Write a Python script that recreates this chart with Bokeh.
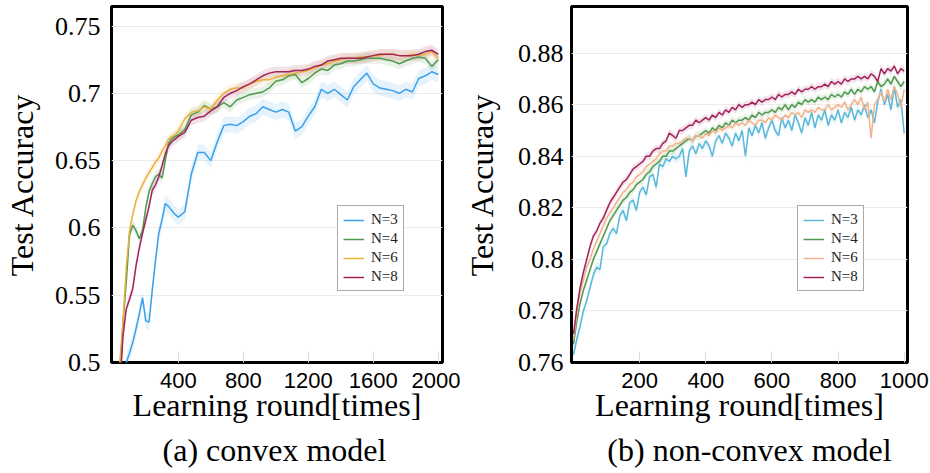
from bokeh.plotting import figure
from bokeh.layouts import row, column
from bokeh.models import (FixedTicker, CustomJSTickFormatter, Legend, LegendItem,
                          Label, Range1d)
from bokeh.embed import file_html
from bokeh.resources import INLINE

# ---------------- data: (a) convex model ----------------
rounds_a = [0, 20, 40, 60, 80, 100, 120, 140, 160, 180, 200, 220, 240, 260, 280, 300,
            320, 340, 360, 380, 400,
            440, 480, 520, 560, 600, 640, 680, 720, 760, 800, 840, 880, 920, 960, 1000,
            1040, 1080, 1120, 1160, 1200, 1240, 1280, 1320, 1360, 1400, 1440, 1480, 1520,
            1560, 1600, 1640, 1680, 1720, 1760, 1800, 1840, 1880, 1920, 1960, 2000]
a_n3 = [0.400, 0.430, 0.460, 0.480, 0.500, 0.507, 0.515, 0.525, 0.536, 0.548, 0.531,
        0.530, 0.554, 0.576, 0.596, 0.606, 0.618, 0.616, 0.613, 0.610, 0.608,
        0.612, 0.640, 0.656, 0.656, 0.650, 0.664, 0.676, 0.677, 0.676, 0.679, 0.683,
        0.685, 0.690, 0.688, 0.686, 0.688, 0.686, 0.672, 0.675, 0.683, 0.690, 0.703,
        0.700, 0.703, 0.699, 0.695, 0.705, 0.710, 0.715, 0.707, 0.704, 0.703, 0.702,
        0.700, 0.703, 0.701, 0.711, 0.713, 0.716, 0.714]
a_n4 = [0.420, 0.450, 0.490, 0.530, 0.560, 0.595, 0.602, 0.598, 0.592, 0.598, 0.615,
        0.627, 0.633, 0.638, 0.640, 0.637, 0.650, 0.663, 0.666, 0.668, 0.669,
        0.673, 0.684, 0.686, 0.691, 0.688, 0.690, 0.693, 0.690, 0.695, 0.697, 0.699,
        0.700, 0.701, 0.704, 0.709, 0.710, 0.713, 0.714, 0.708, 0.711, 0.715, 0.718,
        0.717, 0.721, 0.722, 0.724, 0.724, 0.725, 0.726, 0.726, 0.726, 0.725, 0.724,
        0.722, 0.724, 0.726, 0.727, 0.726, 0.720, 0.725]
a_n6 = [0.420, 0.460, 0.500, 0.531, 0.571, 0.598, 0.610, 0.620, 0.627, 0.632, 0.637,
        0.641, 0.645, 0.649, 0.652, 0.657, 0.661, 0.666, 0.668, 0.669, 0.672,
        0.681, 0.686, 0.687, 0.690, 0.688, 0.695, 0.700, 0.703, 0.704, 0.704, 0.707,
        0.709, 0.710, 0.710, 0.712, 0.713, 0.714, 0.715, 0.716, 0.717, 0.719, 0.721,
        0.722, 0.724, 0.725, 0.726, 0.726, 0.727, 0.727, 0.728, 0.728, 0.729, 0.729,
        0.728, 0.728, 0.729, 0.728, 0.729, 0.731, 0.726]
a_n8 = [0.410, 0.440, 0.480, 0.520, 0.540, 0.547, 0.555, 0.572, 0.585, 0.596, 0.606,
        0.616, 0.628, 0.632, 0.638, 0.646, 0.655, 0.661, 0.664, 0.666, 0.668,
        0.671, 0.680, 0.682, 0.683, 0.687, 0.690, 0.697, 0.700, 0.702, 0.705, 0.707,
        0.710, 0.713, 0.715, 0.716, 0.716, 0.716, 0.717, 0.717, 0.718, 0.720, 0.721,
        0.724, 0.725, 0.726, 0.726, 0.726, 0.726, 0.727, 0.728, 0.729, 0.729, 0.729,
        0.728, 0.728, 0.728, 0.729, 0.731, 0.732, 0.729]

# ---------------- data: (b) non-convex model ----------------
rounds_b = list(range(0, 1001, 10))
b_n3 = [0.763, 0.769, 0.774, 0.780, 0.784, 0.789, 0.794, 0.797, 0.796, 0.805,
        0.806, 0.810, 0.812, 0.810, 0.817, 0.819, 0.815, 0.822, 0.823, 0.819,
        0.826, 0.828, 0.825, 0.832, 0.833, 0.828, 0.837, 0.836, 0.839, 0.838,
        0.840, 0.839, 0.840, 0.843, 0.832, 0.842, 0.844, 0.841, 0.845, 0.843,
        0.846, 0.844, 0.840, 0.846, 0.848, 0.845, 0.849, 0.847, 0.844, 0.849,
        0.846, 0.850, 0.840, 0.851, 0.848, 0.852, 0.849, 0.853, 0.847, 0.851,
        0.854, 0.850, 0.848, 0.855, 0.851, 0.854, 0.850, 0.856, 0.853, 0.849,
        0.855, 0.852, 0.857, 0.851, 0.856, 0.854, 0.858, 0.852, 0.856, 0.854,
        0.858, 0.853, 0.857, 0.855, 0.859, 0.854, 0.858, 0.856, 0.860, 0.855,
        0.858, 0.853, 0.861, 0.866, 0.860, 0.864, 0.858, 0.867, 0.859, 0.862,
        0.849]
b_n4 = [0.767, 0.776, 0.783, 0.788, 0.792, 0.796, 0.800, 0.803, 0.806, 0.809,
        0.812, 0.815, 0.817, 0.819, 0.821, 0.823, 0.824, 0.826, 0.827, 0.829,
        0.830, 0.831, 0.833, 0.834, 0.836, 0.837, 0.838, 0.840, 0.840, 0.842,
        0.842, 0.843, 0.844, 0.845, 0.846, 0.847, 0.846, 0.848, 0.848, 0.849,
        0.850, 0.849, 0.851, 0.850, 0.852, 0.851, 0.853, 0.852, 0.854, 0.853,
        0.854, 0.854, 0.855, 0.854, 0.856, 0.855, 0.857, 0.856, 0.857, 0.857,
        0.858, 0.857, 0.859, 0.858, 0.860, 0.858, 0.860, 0.859, 0.861, 0.860,
        0.862, 0.861, 0.862, 0.861, 0.863, 0.862, 0.863, 0.862, 0.864, 0.863,
        0.864, 0.863, 0.865, 0.864, 0.866, 0.864, 0.866, 0.865, 0.867, 0.866,
        0.867, 0.865, 0.869, 0.867, 0.868, 0.870, 0.868, 0.871, 0.869, 0.867,
        0.869]
b_n6 = [0.769, 0.779, 0.787, 0.792, 0.797, 0.800, 0.804, 0.807, 0.810, 0.813,
        0.816, 0.818, 0.820, 0.822, 0.824, 0.826, 0.827, 0.829, 0.830, 0.832,
        0.833, 0.834, 0.836, 0.837, 0.838, 0.839, 0.841, 0.842, 0.842, 0.844,
        0.844, 0.845, 0.845, 0.846, 0.847, 0.847, 0.846, 0.848, 0.848, 0.847,
        0.849, 0.848, 0.850, 0.849, 0.851, 0.850, 0.851, 0.852, 0.851, 0.853,
        0.852, 0.853, 0.852, 0.854, 0.853, 0.852, 0.854, 0.854, 0.853, 0.855,
        0.854, 0.856, 0.855, 0.854, 0.856, 0.855, 0.857, 0.856, 0.857, 0.855,
        0.858, 0.857, 0.858, 0.857, 0.859, 0.858, 0.858, 0.860, 0.858, 0.859,
        0.860, 0.859, 0.861, 0.858, 0.860, 0.862, 0.860, 0.863, 0.858, 0.861,
        0.847, 0.860, 0.862, 0.865, 0.861, 0.866, 0.862, 0.867, 0.864, 0.859,
        0.866]
b_n8 = [0.771, 0.781, 0.789, 0.795, 0.800, 0.805, 0.809, 0.811, 0.814, 0.816,
        0.819, 0.822, 0.824, 0.826, 0.828, 0.830, 0.831, 0.833, 0.835, 0.836,
        0.837, 0.838, 0.840, 0.840, 0.842, 0.843, 0.843, 0.845, 0.846, 0.849,
        0.848, 0.847, 0.850, 0.850, 0.851, 0.852, 0.852, 0.854, 0.853, 0.854,
        0.855, 0.854, 0.856, 0.855, 0.857, 0.856, 0.858, 0.857, 0.859, 0.858,
        0.860, 0.859, 0.860, 0.860, 0.861, 0.860, 0.862, 0.861, 0.862, 0.862,
        0.863, 0.862, 0.864, 0.863, 0.864, 0.864, 0.865, 0.864, 0.866, 0.865,
        0.866, 0.866, 0.867, 0.866, 0.867, 0.867, 0.868, 0.867, 0.869, 0.868,
        0.869, 0.868, 0.870, 0.869, 0.870, 0.870, 0.871, 0.870, 0.871, 0.870,
        0.872, 0.871, 0.869, 0.874, 0.872, 0.874, 0.873, 0.875, 0.872, 0.874,
        0.873]

series_labels = ["N=3", "N=4", "N=6", "N=8"]
yticks_a = [0.5, 0.55, 0.6, 0.65, 0.7, 0.75]
xticks_a = [400, 800, 1200, 1600, 2000]
yticks_b = [0.76, 0.78, 0.8, 0.82, 0.84, 0.86, 0.88]
xticks_b = [200, 400, 600, 800, 1000]
x_title = "Learning round[times]"
y_title = "Test Accuracy"
captions = ["(a) convex model", "(b) non-convex model"]

colors_a = ["#3aa0ea", "#4f9a4f", "#e9b23c", "#a3245c"]
colors_b = ["#5ab8da", "#4f9a4f", "#efb48c", "#a3245c"]
spread_a = [0.006, 0.004, 0.004, 0.004]
spread_b = [0.002, 0.0015, 0.0015, 0.0015]

SERIF = "Liberation Serif"
SANS = "Liberation Sans"
MAIN_H = 429
CAP_H = 44


def make_panel(xs, ys_list, colors, spreads, xr, yr, xt, yt,
               width, border_left, border_right, ylab_standoff, ytick_standoff):
    p = figure(width=width, height=MAIN_H, output_backend="svg", toolbar_location=None,
               x_range=Range1d(*xr), y_range=Range1d(*yr),
               min_border_left=border_left, min_border_right=border_right,
               min_border_top=6, min_border_bottom=MAIN_H - 362)
    p.background_fill_color = "white"
    p.border_fill_color = "white"
    p.outline_line_color = "black"
    p.outline_line_width = 3
    p.xgrid.grid_line_color = None
    p.ygrid.grid_line_color = "#ececec"
    p.ygrid.grid_line_width = 1

    for ys, c, s in zip(ys_list, colors, spreads):
        lo = [v - s for v in ys]
        hi = [v + s for v in ys]
        p.varea(x=xs, y1=lo, y2=hi, fill_color=c, fill_alpha=0.13)
    items = []
    for ys, c, lab in zip(ys_list, colors, series_labels):
        r = p.line(xs, ys, line_color=c, line_width=1.5)
        items.append(LegendItem(label=lab, renderers=[r]))

    p.xaxis.ticker = FixedTicker(ticks=xt)
    p.yaxis.ticker = FixedTicker(ticks=yt)
    p.yaxis.formatter = CustomJSTickFormatter(
        code="return String(parseFloat(tick.toFixed(3)));")
    for ax in (p.xaxis, p.yaxis):
        ax.axis_line_color = None
        ax.minor_tick_line_color = None
    p.yaxis.major_tick_line_color = None
    p.xaxis.major_tick_in = 11
    p.xaxis.major_tick_out = 0
    p.xaxis.major_tick_line_color = "#dcdcdc"
    p.xaxis.major_label_text_font = SANS
    p.xaxis.major_label_text_font_size = "22px"
    p.xaxis.major_label_text_color = "black"
    p.xaxis.major_label_standoff = 10
    p.yaxis.major_label_text_font = SERIF
    p.yaxis.major_label_text_font_size = "26px"
    p.yaxis.major_label_text_color = "black"
    p.yaxis.major_label_standoff = ytick_standoff

    p.xaxis.axis_label = x_title
    p.yaxis.axis_label = y_title
    for ax in (p.xaxis, p.yaxis):
        ax.axis_label_text_font = SERIF
        ax.axis_label_text_font_size = "32px"
        ax.axis_label_text_font_style = "normal"
        ax.axis_label_text_color = "black"
    p.xaxis.axis_label_standoff = -4
    p.yaxis.axis_label_standoff = ylab_standoff

    leg = Legend(items=items, location=(226, 71), label_text_font=SERIF,
                 label_text_font_size="15px", label_text_color="#222222",
                 glyph_width=21, glyph_height=16, label_height=16, spacing=2,
                 padding=5, margin=0, label_standoff=7,
                 border_line_color="#555555", border_line_width=1,
                 background_fill_alpha=1.0)
    p.add_layout(leg, "center")
    return p


def make_caption(text, width, cx):
    c = figure(width=width, height=CAP_H, output_backend="svg", toolbar_location=None,
               x_range=Range1d(0, 1), y_range=Range1d(0, 1), min_border=0,
               x_axis_location=None, y_axis_location=None)
    c.grid.visible = False
    c.outline_line_color = None
    c.border_fill_color = "white"
    c.add_layout(Label(x=cx, y=24, x_units="screen", y_units="screen", text=text,
                       text_font=SERIF, text_font_size="32px", text_align="center",
                       text_baseline="alphabetic", text_color="black"))
    return c


pa = make_panel(rounds_a, [a_n3, a_n4, a_n6, a_n8], colors_a, spread_a,
                (-11, 2026), (0.5, 0.7645), xticks_a, yticks_a,
                460, 105, 18, 12, 5)
pb = make_panel(rounds_b, [b_n3, b_n4, b_n6, b_n8], colors_b, spread_b,
                (-6, 1010), (0.76, 0.8981), xticks_b, yticks_b,
                470, 110, 23, 15, 2)
ca = make_caption(captions[0], 460, 274)
cb = make_caption(captions[1], 470, 289)

layout = column(row(pa, pb, spacing=0), row(ca, cb, spacing=0), spacing=0)
open("out.html", "w").write(file_html(layout, INLINE))
